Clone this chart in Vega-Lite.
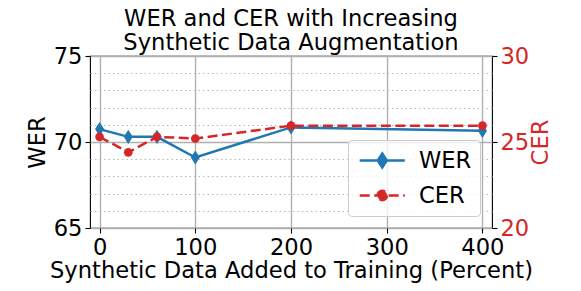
{
  "$schema": "https://vega.github.io/schema/vega-lite/v6.json",
  "width": 402,
  "height": 172,
  "autosize": {"type": "none"},
  "padding": {"left": 90, "top": 56, "right": 89, "bottom": 63},
  "title": {
    "text": ["WER and CER with Increasing", "Synthetic Data Augmentation"],
    "font": "DejaVu Sans",
    "fontSize": 22.6,
    "fontWeight": "normal",
    "color": "#000000",
    "anchor": "middle",
    "lineHeight": 24,
    "offset": -10
  },
  "config": {
    "font": "DejaVu Sans",
    "view": {"stroke": "#000000", "strokeWidth": 1.1},
    "axis": {
      "domain": false,
      "labelFont": "DejaVu Sans",
      "labelFontSize": 22.6,
      "labelColor": "#000000",
      "titleFont": "DejaVu Sans",
      "titleFontSize": 22.6,
      "titleFontWeight": "normal",
      "titleColor": "#000000",
      "tickColor": "#000000",
      "tickSize": 5,
      "tickWidth": 1.1,
      "labelPadding": 3
    }
  },
  "data": {
    "values": [
      {"x": 0, "WER": 70.75, "CER": 25.3},
      {"x": 30, "WER": 70.3, "CER": 24.4},
      {"x": 60, "WER": 70.3, "CER": 25.3},
      {"x": 100, "WER": 69.1, "CER": 25.2},
      {"x": 200, "WER": 70.85, "CER": 25.95},
      {"x": 400, "WER": 70.65, "CER": 25.95}
    ]
  },
  "encoding": {
    "x": {
      "field": "x",
      "type": "quantitative",
      "scale": {"domain": [-10, 410], "nice": false, "zero": false},
      "axis": {
        "values": [0, 100, 200, 300, 400],
        "title": "Synthetic Data Added to Training (Percent)",
        "grid": true,
        "gridColor": "#b0b0b0",
        "gridWidth": 1.4,
        "titlePadding": 1
      }
    }
  },
  "layer": [
    {
      "encoding": {
        "y": {
          "field": "WER",
          "type": "quantitative",
          "scale": {"domain": [65, 75], "nice": false, "zero": false},
          "axis": {
            "orient": "left",
            "title": "WER",
            "values": [65, 66, 67, 68, 69, 70, 71, 72, 73, 74, 75],
            "labelExpr": "datum.value % 5 === 0 ? datum.label : ''",
            "grid": true,
            "gridColor": {"condition": {"test": "datum.value % 5 === 0", "value": "#b0b0b0"}, "value": "#b8b8b8"},
            "gridWidth": {"condition": {"test": "datum.value % 5 === 0", "value": 1.4}, "value": 1.1},
            "gridDash": {"condition": {"test": "datum.value % 5 === 0", "value": []}, "value": [1.5, 3]},
            "tickOpacity": {"condition": {"test": "datum.value % 5 === 0", "value": 1}, "value": 0},
            "titlePadding": 4
          }
        },
        "color": {
          "datum": "WER",
          "scale": {"domain": ["WER", "CER"], "range": ["#1f77b4", "#d62728"]},
          "legend": {
            "title": null,
            "orient": "bottom-right",
            "offset": 12,
            "labelFont": "DejaVu Sans",
            "labelFontSize": 22.6,
            "labelColor": "#000000",
            "labelOffset": 38,
            "rowPadding": 10,
            "padding": 8,
            "fillColor": "rgba(255,255,255,0.8)",
            "strokeColor": "#cccccc",
            "cornerRadius": 4,
            "symbolSize": 484,
            "symbolStrokeWidth": 2.5,
            "encode": {
              "symbols": {
                "update": {
                  "shape": {"signal": "datum.value === 'WER' ? 'M-0.8,0H3.3M1.25,-0.636L1.66,0L1.25,0.636L0.84,0Z' : 'M-0.8,0H3.3M1.677,0A0.427,0.427,0,1,1,0.823,0A0.427,0.427,0,1,1,1.677,0Z'"},
                  "fill": {"signal": "datum.value === 'WER' ? '#1f77b4' : '#d62728'"},
                  "stroke": {"signal": "datum.value === 'WER' ? '#1f77b4' : '#d62728'"},
                  "strokeDash": {"signal": "datum.value === 'CER' ? [10, 4.5] : []"},
                  "strokeWidth": {"value": 2.5},
                  "opacity": {"value": 1},
                  "fillOpacity": {"value": 1},
                  "size": {"value": 484}
                }
              }
            }
          }
        }
      },
      "layer": [
        {"mark": {"type": "line", "strokeWidth": 2.5}},
        {"mark": {"type": "point", "shape": "M0,-1L0.64,0L0,1L-0.64,0Z", "size": 200, "filled": true, "opacity": 1}}
      ]
    },
    {
      "encoding": {
        "y": {
          "field": "CER",
          "type": "quantitative",
          "scale": {"domain": [20, 30], "nice": false, "zero": false},
          "axis": {
            "orient": "right",
            "title": "CER",
            "values": [20, 25, 30],
            "grid": false,
            "labelColor": "#d62728",
            "titleColor": "#d62728",
            "titleAngle": 270,
            "titleBaseline": "top",
            "titlePadding": 1
          }
        },
        "color": {"datum": "CER"}
      },
      "layer": [
        {"mark": {"type": "line", "strokeWidth": 2.5, "strokeDash": [10, 4.5]}},
        {"mark": {"type": "circle", "size": 75, "opacity": 1}}
      ]
    }
  ],
  "resolve": {"scale": {"y": "independent"}}
}
